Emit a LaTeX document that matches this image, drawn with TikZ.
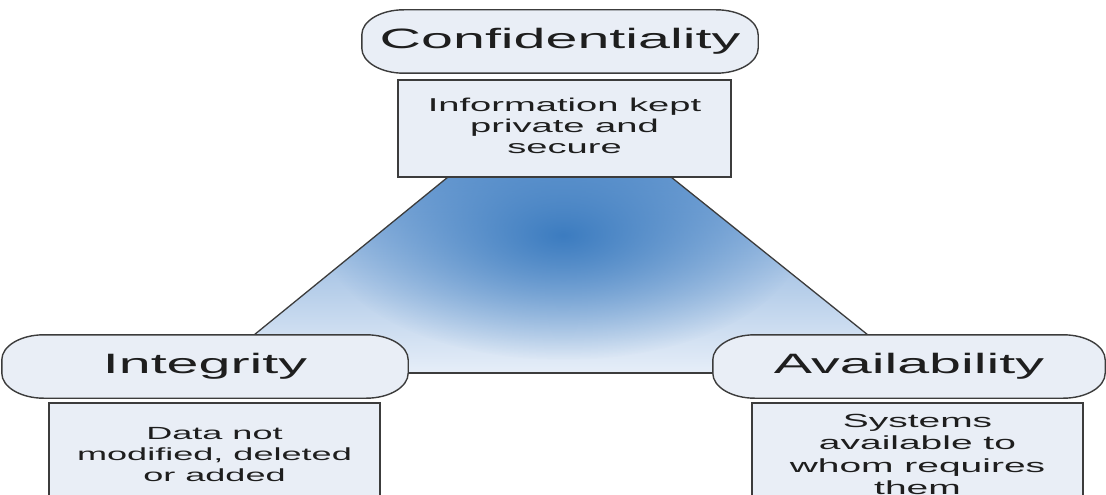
\documentclass[tikz,border=0pt]{standalone}
\usepackage{fontspec}
\setmainfont{Liberation Sans}
\usepackage{graphicx}
\usetikzlibrary{fadings}
\definecolor{boxfill}{RGB}{233,238,246}
\definecolor{boxedge}{RGB}{60,60,60}
\definecolor{txt}{RGB}{30,30,30}
\definecolor{shDark}{RGB}{60,124,192}
\definecolor{shTop}{RGB}{118,163,214}
\definecolor{shMid}{RGB}{160,192,230}
\definecolor{shBot}{RGB}{230,238,248}
\tikzfading[name=ciafade, inner color=transparent!0, outer color=transparent!100]
\newcommand\ciaround[1]{%
  \filldraw[roundline] ([xshift=42pt]#1.north west) -- ([xshift=-42pt]#1.north east)
    arc[start angle=90,end angle=0,x radius=42pt,y radius=25pt]
    -- ([yshift=25pt]#1.south east)
    arc[start angle=0,end angle=-90,x radius=42pt,y radius=25pt]
    -- ([xshift=42pt]#1.south west)
    arc[start angle=270,end angle=180,x radius=42pt,y radius=25pt]
    -- ([yshift=-25pt]#1.north west)
    arc[start angle=180,end angle=90,x radius=42pt,y radius=25pt] -- cycle;}
\newcommand\ciastretch[1]{\scalebox{2.05}[1]{#1}}
\begin{document}
\begin{tikzpicture}[x=1pt,y=1pt,
  boxspace/.style={rectangle,inner sep=0pt,minimum height=63pt},
  roundline/.style={draw=boxedge,fill=boxfill,line width=1.4pt},
  titletext/.style={inner sep=0pt,text=txt,font=\fontsize{28}{34}\selectfont},
  descbox/.style={rectangle,draw=boxedge,fill=boxfill,line width=1.4pt,inner sep=0pt,text=txt},
  tline/.style={draw=boxedge,line width=1.3pt}]
\useasboundingbox (0,0) rectangle (1106,-495);
\clip (0,0) rectangle (1106,-495);
\fill[white] (0,0) rectangle (1106,-495);
% triangle area
\coordinate (tl) at (448,-177);
\coordinate (tr) at (671,-177);
\coordinate (bl) at (254,-335);
\coordinate (br) at (868,-335);
\coordinate (bml) at (300,-373);
\coordinate (bmr) at (800,-373);
\begin{scope}
  \clip (448,-177) -- (671,-177) -- (916,-373) -- (207,-373) -- cycle;
  \shade[top color=shTop, middle color=shMid, bottom color=shBot] (200,-177) rectangle (920,-373);
  \fill[shDark, path fading=ciafade] (563,-235) ellipse [x radius=240, y radius=125];
\end{scope}
\draw[tline] (tl) -- (bl);
\draw[tline] (tr) -- (br);
\draw[tline] (bml) -- (bmr);
% Confidentiality
\node[boxspace,minimum width=396pt] (conf) at (560,-41.5) {};
\ciaround{conf}
\node[titletext] (conftxt) at (conf.center) {\ciastretch{Confidentiality}};
\node[descbox,minimum width=333pt,minimum height=97pt,font=\fontsize{18.6}{21}\selectfont] (confd) at (564.5,-128.5)
  {\ciastretch{\begin{tabular}{@{}c@{}}Information kept\\private and\\secure\end{tabular}}};
% Integrity
\node[boxspace,minimum width=406pt] (integ) at (205,-366.5) {};
\ciaround{integ}
\node[titletext] (integtxt) at (integ.center) {\ciastretch{Integrity}};
\node[descbox,minimum width=331pt,minimum height=107pt,font=\fontsize{17.6}{21}\selectfont] (integd) at (214.5,-456.5)
  {\ciastretch{\begin{tabular}{@{}c@{}}Data not\\modified, deleted\\or added\end{tabular}}};
% Availability
\node[boxspace,minimum width=392pt] (avail) at (909,-366.5) {};
\ciaround{avail}
\node[titletext] (availtxt) at (avail.center) {\ciastretch{Availability}};
\node[descbox,minimum width=331pt,minimum height=107pt,font=\fontsize{19}{22.5}\selectfont] (availd) at (917.5,-456.5)
  {\ciastretch{\begin{tabular}{@{}c@{}}Systems\\available to\\whom requires\\them\end{tabular}}};
\end{tikzpicture}
\end{document}
